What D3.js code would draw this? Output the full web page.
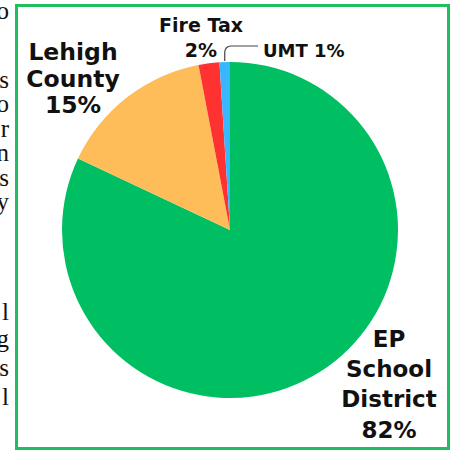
<!DOCTYPE html>
<html>
<head>
<meta charset="utf-8">
<script src="https://cdn.jsdelivr.net/npm/d3@7"></script>
<style>
  html, body { margin: 0; padding: 0; background: #ffffff; }
  svg { display: block; }
</style>
</head>
<body>
<svg id="chart" width="453" height="453"></svg>
<script>
// ---- data ----
const categories = ["EP School District", "Lehigh County", "Fire Tax", "UMT"];
const values = [82, 15, 2, 1];
const colors = ["#00bf63", "#ffbd59", "#ff3131", "#38b6ff"];
const labelLines = [
  ["EP", "School", "District", "82%"],
  ["Lehigh", "County", "15%"],
  ["Fire Tax", "2%"],
  ["UMT 1%"]
];
// cropped letters of neighbouring document text (left margin)
const marginLetters = ["o", "s", "o", "r", "n", "s", "y", "l", "g", "s", "l"];
const marginBaselines = [19, 88, 112, 137, 161, 186, 210, 320, 347, 376, 405];

const svg = d3.select("#chart");

// margin letters
svg.append("g").selectAll("text").data(marginLetters).join("text")
  .attr("x", 9).attr("y", (d, i) => marginBaselines[i])
  .attr("text-anchor", "end")
  .attr("font-family", "Liberation Serif, DejaVu Serif, serif")
  .attr("font-size", 25)
  .attr("fill", "#111")
  .text(d => d);

// frame
svg.append("rect")
  .attr("x", 16.5).attr("y", 5.5).attr("width", 432).attr("height", 443)
  .attr("fill", "#fff").attr("stroke", "#1dbf5f").attr("stroke-width", 3);

// pie
const cx = 230, cy = 230, r = 168;
const pie = d3.pie().sort(null).value(d => d)(values);
const arc = d3.arc().innerRadius(0).outerRadius(r);
const g = svg.append("g").attr("transform", `translate(${cx},${cy})`);
g.selectAll("path").data(pie).join("path")
  .attr("d", arc)
  .attr("fill", (d, i) => colors[i]);

// labels
const font = "'DejaVu Sans', sans-serif";
const labelSpecs = [
  { x: 389, y0: 347, dy: 30.2, size: 23, anchor: "middle" },
  { x: 73, y0: 60, dy: 26.5, size: 23.5, anchor: "middle" },
  { x: 201, y0: 32, dy: 25, size: 19, anchor: "middle" },
  { x: 263, y0: 57, dy: 0, size: 18, anchor: "start" }
];
labelLines.forEach((lines, i) => {
  const s = labelSpecs[i];
  svg.append("g").selectAll("text").data(lines).join("text")
    .attr("x", s.x).attr("y", (d, j) => s.y0 + j * s.dy)
    .attr("text-anchor", s.anchor)
    .attr("font-family", font).attr("font-weight", "bold")
    .attr("font-size", s.size).attr("fill", "#111")
    .text(d => d);
});

// leader line for UMT
const umtMid = (pie[3].startAngle + pie[3].endAngle) / 2;
const lx = cx + r * Math.sin(umtMid);
const ly = cy - r * Math.cos(umtMid);
const path = d3.path();
path.moveTo(lx, ly - 1);
path.lineTo(lx, 52);
path.arcTo(lx, 46, lx + 6, 46, 6);
path.lineTo(258, 46);
svg.append("path").attr("d", path.toString())
  .attr("fill", "none").attr("stroke", "#444").attr("stroke-width", 1.2);
</script>
</body>
</html>
